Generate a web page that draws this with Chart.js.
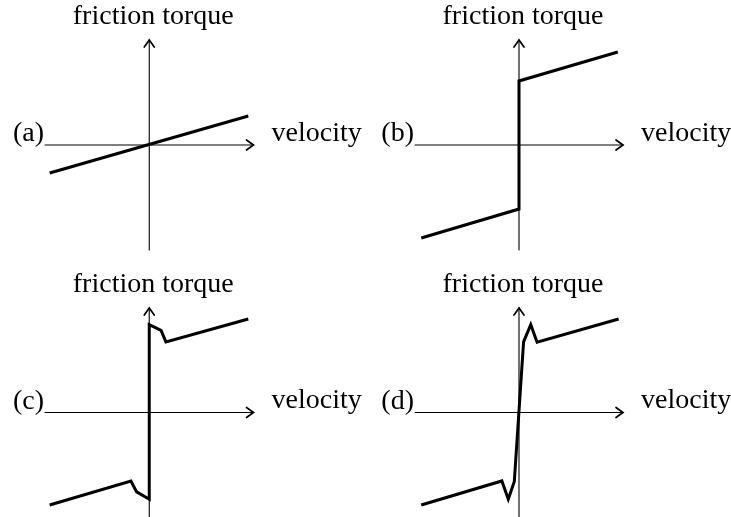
<!DOCTYPE html>
<html>
<head>
<meta charset="utf-8">
<script src="https://cdn.jsdelivr.net/npm/chart.js@4/dist/chart.umd.min.js"></script>
<style>
  html, body { margin: 0; padding: 0; background: #fff; overflow: hidden; }
  #wrap { position: relative; width: 731px; height: 517px; }
  .panel { position: absolute; }
</style>
</head>
<body>
<div id="wrap">
  <canvas id="pa" class="panel" width="365" height="260" style="left:0;top:0"></canvas>
  <canvas id="pb" class="panel" width="365" height="260" style="left:366px;top:0"></canvas>
  <canvas id="pc" class="panel" width="365" height="257" style="left:0;top:260px"></canvas>
  <canvas id="pd" class="panel" width="365" height="257" style="left:366px;top:260px"></canvas>
</div>
<script>
// Friction models: torque as a function of velocity (normalised units)
const axisLabelX = 'velocity';
const axisLabelY = 'friction torque';
const panelTags = ['(a)', '(b)', '(c)', '(d)'];

// (a) viscous friction
const velA = [-0.955, 0.95];
const torqueA = [-0.267, 0.276];

// (b) Coulomb + viscous friction
const velB = [-0.94, 0, 0, 0.95];
const torqueB = [-0.886, -0.61, 0.61, 0.886];

// (c) static + Coulomb + viscous friction
const velC = [-0.955, -0.176, -0.121, 0, 0, 0.113, 0.16, 0.95];
const torqueC = [-0.885, -0.655, -0.76, -0.83, 0.84, 0.785, 0.675, 0.895];

// (d) Stribeck-type friction with a finite slope through zero
const velD = [-0.94, -0.165, -0.103, -0.045, 0.044, 0.113, 0.174, 0.958];
const torqueD = [-0.885, -0.655, -0.83, -0.66, 0.675, 0.84, 0.672, 0.895];

const FONT = '28px "Liberation Serif", "Times New Roman", serif';

function toPoints(xs, ys) {
  return xs.map((x, i) => ({ x: x, y: ys[i] }));
}

// Draws the two axes through the origin with open arrow tips, plus the labels
const crossAxes = {
  id: 'crossAxes',
  beforeDatasetsDraw(chart) {
    const { ctx, scales } = chart;
    const x0 = scales.x.getPixelForValue(0);
    const y0 = scales.y.getPixelForValue(0);
    const left = scales.x.getPixelForValue(scales.x.min);
    const right = scales.x.getPixelForValue(scales.x.max);
    const top = scales.y.getPixelForValue(scales.y.max);
    const bottom = scales.y.getPixelForValue(scales.y.min);
    ctx.save();
    ctx.strokeStyle = '#000';
    ctx.lineWidth = 1.1;
    ctx.lineCap = 'round';
    ctx.lineJoin = 'round';
    ctx.beginPath();
    ctx.moveTo(left, y0); ctx.lineTo(right, y0);
    ctx.moveTo(x0, bottom); ctx.lineTo(x0, top);
    ctx.stroke();
    const L = 7, W = 5;
    ctx.lineWidth = 1.7;
    ctx.lineJoin = 'miter';
    ctx.beginPath();
    ctx.moveTo(right - L, y0 - W); ctx.lineTo(right, y0); ctx.lineTo(right - L, y0 + W);
    ctx.moveTo(x0 - W, top + L); ctx.lineTo(x0, top); ctx.lineTo(x0 + W, top + L);
    ctx.stroke();
    ctx.restore();
  },
  afterDraw(chart, args, opts) {
    const { ctx, scales } = chart;
    const x0 = scales.x.getPixelForValue(0);
    const y0 = scales.y.getPixelForValue(0);
    const left = scales.x.getPixelForValue(scales.x.min);
    const right = scales.x.getPixelForValue(scales.x.max);
    const top = scales.y.getPixelForValue(scales.y.max);
    ctx.save();
    ctx.fillStyle = '#000';
    ctx.font = FONT;
    ctx.textBaseline = 'alphabetic';
    ctx.textAlign = 'center';
    ctx.fillText(axisLabelY, x0 + 4, top - 16);
    ctx.textAlign = 'right';
    ctx.fillText(opts.tag, left - 1, y0 - 4);
    ctx.textAlign = 'left';
    ctx.fillText(axisLabelX, right + 18, y0 - 4.5);
    ctx.restore();
  }
};

function makePanel(id, tag, xs, ys, padding) {
  new Chart(document.getElementById(id), {
    type: 'scatter',
    data: {
      datasets: [{
        data: toPoints(xs, ys),
        showLine: true,
        borderColor: '#000',
        borderWidth: 3,
        borderJoinStyle: 'miter',
        borderCapStyle: 'butt',
        pointRadius: 0,
        tension: 0,
        fill: false
      }]
    },
    options: {
      responsive: false,
      devicePixelRatio: 1,
      animation: false,
      events: [],
      layout: { padding: padding },
      scales: {
        x: { type: 'linear', min: -1, max: 1, display: false },
        y: { type: 'linear', min: -1, max: 1, display: false }
      },
      plugins: {
        legend: { display: false },
        tooltip: { enabled: false },
        crossAxes: { tag: tag }
      }
    },
    plugins: [crossAxes]
  });
}

makePanel('pa', panelTags[0], velA, torqueA, { left: 45, right: 111.5, top: 40, bottom: 10 });
makePanel('pb', panelTags[1], velB, torqueB, { left: 49, right: 108, top: 40, bottom: 10 });
makePanel('pc', panelTags[2], velC, torqueC, { left: 45, right: 111.5, top: 48, bottom: 0 });
makePanel('pd', panelTags[3], velD, torqueD, { left: 49, right: 108, top: 48, bottom: 0 });
</script>
</body>
</html>
